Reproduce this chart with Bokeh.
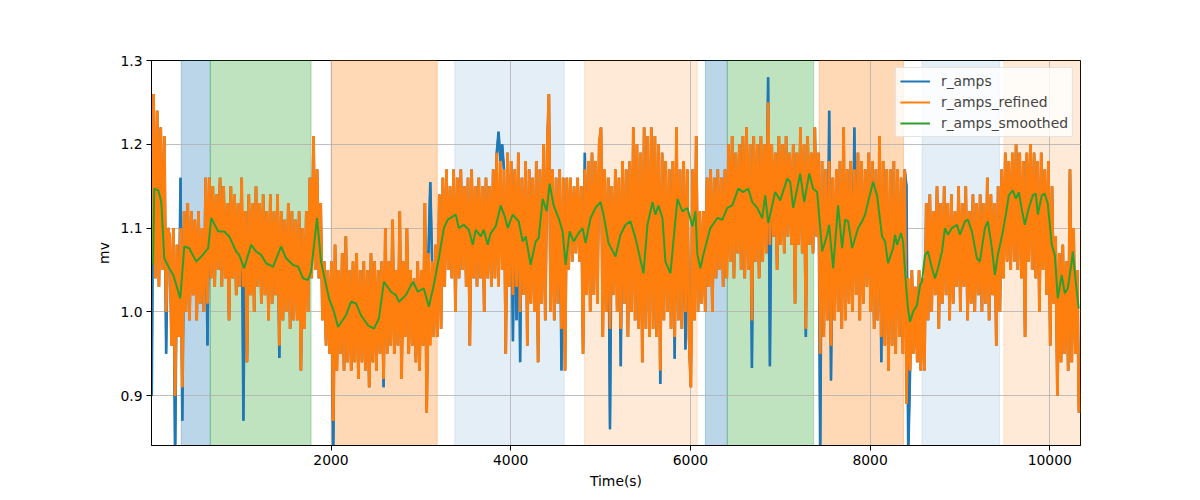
import numpy as np
from bokeh.plotting import figure
from bokeh.models import BoxAnnotation, FixedTicker, Range1d, PrintfTickFormatter
from bokeh.embed import file_html
from bokeh.resources import INLINE

# ---------------- data ----------------
T0 = 5          # time of first sample (s)
DT = 20         # spacing of the samples below (s)

r_amps_refined = [
    1.06, 1.26, 1.04, 1.24, 1.03, 1.22, 1.05, 1.21, 1.00, 1.10,
    1.09, 0.96, 1.10, 0.90, 1.08, 0.97, 1.10, 0.91, 1.12, 1.00,
    1.13, 0.99, 1.12, 1.02, 1.11, 0.99, 1.12, 1.01, 1.10, 1.00,
    1.16, 1.01, 1.16, 1.04, 1.15, 1.03, 1.14, 1.05, 1.16, 1.03,
    1.15, 1.04, 1.13, 0.99, 1.15, 1.04, 1.14, 1.02, 1.13, 1.03,
    1.16, 1.03, 1.12, 0.94, 1.14, 1.02, 1.13, 1.00, 1.15, 1.03,
    1.13, 1.01, 1.14, 1.02, 1.12, 0.99, 1.14, 1.01, 1.12, 1.02,
    1.14, 0.96, 1.12, 0.99, 1.11, 1.00, 1.13, 0.98, 1.12, 0.99,
    1.11, 0.99, 1.12, 0.93, 1.10, 0.98, 1.12, 1.00, 1.16, 1.04,
    1.21, 1.05, 1.17, 1.04, 1.13, 0.99, 1.06, 0.96, 1.05, 0.95,
    1.06, 0.87, 1.08, 0.93, 1.05, 0.95, 1.07, 0.93, 1.09, 0.94,
    1.05, 0.93, 1.06, 0.94, 1.07, 0.92, 1.05, 0.94, 1.06, 0.93,
    1.05, 0.91, 1.07, 0.94, 1.06, 0.93, 1.05, 0.95, 1.06, 0.92,
    1.10, 0.95, 1.06, 0.96, 1.11, 0.95, 1.05, 0.96, 1.12, 0.92,
    1.06, 0.97, 1.10, 0.95, 1.05, 0.96, 1.04, 0.94, 1.06, 0.93,
    1.05, 0.96, 1.13, 0.88, 1.07, 0.96, 1.06, 0.97, 1.08, 0.97,
    1.14, 0.98, 1.16, 1.03, 1.17, 1.05, 1.15, 1.04, 1.17, 1.00,
    1.16, 1.04, 1.17, 1.05, 1.15, 1.03, 1.16, 0.96, 1.17, 1.04,
    1.15, 1.03, 1.16, 1.04, 1.15, 1.00, 1.16, 1.04, 1.15, 1.03,
    1.17, 1.04, 1.19, 1.03, 1.18, 1.05, 1.17, 0.95, 1.19, 1.03,
    1.18, 1.02, 1.17, 1.03, 1.19, 1.00, 1.16, 1.02, 1.18, 0.96,
    1.17, 1.01, 1.16, 1.00, 1.18, 0.94, 1.17, 1.01, 1.20, 0.99,
    1.19, 1.26, 1.00, 1.17, 0.99, 1.16, 1.01, 1.17, 0.98, 1.16,
    0.93, 1.16, 1.05, 1.16, 1.06, 1.15, 1.07, 1.16, 1.06, 1.15,
    0.95, 1.17, 1.02, 1.18, 1.00, 1.19, 1.02, 1.18, 1.01, 1.20,
    1.22, 0.97, 1.17, 1.00, 1.16, 0.98, 1.15, 1.02, 1.17, 1.00,
    1.16, 0.98, 1.18, 1.01, 1.17, 0.97, 1.18, 1.00, 1.22, 0.99,
    1.20, 0.98, 1.19, 0.94, 1.22, 0.98, 1.21, 0.97, 1.22, 0.98,
    1.21, 0.97, 1.20, 0.93, 1.19, 0.99, 1.18, 1.00, 1.17, 0.98,
    1.18, 0.97, 1.22, 0.99, 1.17, 0.98, 1.18, 1.00, 1.17, 0.97,
    0.91, 1.17, 0.99, 1.21, 1.00, 1.12, 1.01, 1.12, 1.00, 1.16,
    1.03, 1.17, 1.00, 1.16, 1.04, 1.17, 1.05, 1.16, 1.03, 1.17,
    1.04, 1.20, 1.06, 1.21, 1.04, 1.19, 1.07, 1.20, 1.05, 1.21,
    1.04, 1.22, 1.05, 1.20, 0.99, 1.21, 1.06, 1.20, 1.04, 1.21,
    1.06, 1.20, 1.07, 1.25, 1.08, 1.20, 1.09, 1.19, 1.05, 1.21,
    1.08, 1.20, 1.07, 1.21, 1.09, 1.19, 1.08, 1.20, 1.01, 1.19,
    1.08, 1.22, 1.07, 1.20, 0.98, 1.21, 1.08, 1.19, 1.07, 1.22,
    1.09, 1.19, 0.95, 1.18, 0.97, 1.17, 0.99, 1.18, 0.96, 1.16,
    0.99, 1.17, 1.00, 1.18, 0.98, 1.22, 0.99, 1.17, 1.01, 1.18,
    1.00, 1.17, 1.02, 1.19, 0.99, 1.18, 1.01, 1.17, 1.03, 1.19,
    1.00, 1.18, 0.98, 1.17, 0.99, 1.21, 0.97, 1.18, 0.96, 1.17,
    0.93, 1.17, 0.96, 1.18, 0.95, 1.17, 0.97, 1.16, 0.95, 1.17,
    0.89, 1.04, 0.93, 1.05, 0.95, 1.03, 0.94, 1.05, 0.93, 1.04,
    0.93, 1.13, 0.99, 1.14, 1.00, 1.12, 1.02, 1.15, 0.98, 1.13,
    1.01, 1.15, 1.02, 1.13, 0.99, 1.14, 1.01, 1.12, 1.03, 1.15,
    1.00, 1.13, 1.03, 1.15, 0.99, 1.12, 1.01, 1.14, 1.00, 1.13,
    1.02, 1.14, 1.00, 1.13, 1.01, 1.16, 0.99, 1.14, 1.02, 1.13,
    0.96, 1.15, 1.00, 1.17, 1.04, 1.19, 1.06, 1.18, 1.05, 1.19,
    1.06, 1.20, 1.05, 1.19, 1.04, 1.18, 0.97, 1.19, 1.06, 1.20,
    1.05, 1.19, 1.04, 1.18, 1.00, 1.19, 1.05, 1.17, 1.02, 1.18,
    0.96, 1.15, 1.01, 1.09, 0.90, 1.07, 0.94, 1.08, 0.95, 1.06,
    0.93, 1.17, 0.94, 1.10, 0.95, 1.05, 0.88,
]

# samples where the raw r_amps differ from the refined values (outliers)
r_amps_outlier_times = [
    5, 165, 265, 325, 345, 625, 1025, 1425, 2025, 2585, 3105, 3865, 3905,
    4025, 4065, 4105, 4565, 4825, 5105, 5225, 5665, 5825, 5945, 6685, 6865,
    6885, 7285, 7445, 7545, 7565, 7825, 8125, 8405, 8425,
]
r_amps_outlier_values = [
    0.90, 0.95, 0.82, 1.16, 0.87, 0.96, 0.87, 0.945, 0.83, 0.91, 1.155, 1.215, 1.20,
    0.965, 0.99, 0.94, 0.93, 1.19, 0.86, 0.935, 0.914, 0.944, 0.955, 0.933, 1.28,
    0.935, 0.97, 0.83, 1.24, 0.918, 1.22, 0.94, 1.15, 0.83,
]

smooth_times = [
    19, 33, 78, 111, 144, 200, 244, 278, 322, 367, 422, 500, 556, 633, 667, 744, 811,
    867, 944, 978, 1033, 1111, 1167, 1222, 1278, 1356, 1444, 1500, 1578, 1633, 1689,
    1744, 1778, 1844, 1889, 1978, 2033, 2078, 2167, 2222, 2278, 2333, 2411, 2478,
    2533, 2589, 2667, 2722, 2756, 2833, 2911, 2967, 3033, 3089, 3144, 3200, 3256,
    3300, 3389, 3422, 3478, 3533, 3578, 3611, 3667, 3700, 3744, 3778, 3833, 3889,
    3933, 3967, 4022, 4089, 4133, 4167, 4222, 4278, 4311, 4356, 4400, 4433, 4478,
    4533, 4578, 4611, 4656, 4700, 4756, 4800, 4833, 4889, 4944, 5000, 5033, 5089,
    5167, 5222, 5278, 5333, 5389, 5478, 5522, 5578, 5611, 5644, 5689, 5722, 5778,
    5811, 5856, 5911, 5967, 6022, 6056, 6078, 6111, 6144, 6222, 6300, 6356, 6411,
    6467, 6533, 6589, 6644, 6689, 6744, 6800, 6833, 6867, 6944, 7000, 7078, 7111,
    7144, 7189, 7222, 7267, 7322, 7367, 7411, 7467, 7522, 7544, 7589, 7644, 7689,
    7722, 7756, 7800, 7867, 7911, 7944, 7978, 8033, 8078, 8133, 8167, 8200, 8256,
    8278, 8300, 8344, 8367, 8400, 8422, 8444, 8478, 8522, 8556, 8578, 8611, 8644,
    8689, 8722, 8756, 8800, 8833, 8867, 8911, 8967, 9000, 9056, 9089, 9133, 9189,
    9222, 9278, 9311, 9356, 9389, 9422, 9478, 9511, 9544, 9589, 9622, 9656, 9689,
    9722, 9767, 9811, 9844, 9867, 9911, 9944, 9978, 10022, 10056, 10089, 10133,
    10167, 10200, 10244, 10256, 10289, 10322,
]
smooth_values = [
    1.056, 1.147, 1.145, 1.131, 1.064, 1.052, 1.044, 1.032, 1.016, 1.078, 1.076, 1.060, 1.066, 1.076, 1.112, 1.096, 1.096,
    1.090, 1.072, 1.068, 1.052, 1.080, 1.072, 1.068, 1.058, 1.054, 1.078, 1.064, 1.056, 1.054, 1.040,
    1.038, 1.048, 1.112, 1.060, 1.016, 1.000, 0.982, 0.996, 1.012, 1.010, 0.996, 0.984, 0.980,
    0.992, 1.036, 1.024, 1.020, 1.012, 1.020, 1.036, 1.024, 1.028, 1.006, 1.032, 1.064, 1.100,
    1.110, 1.116, 1.100, 1.104, 1.098, 1.080, 1.098, 1.090, 1.098, 1.080, 1.094, 1.102, 1.127,
    1.114, 1.100, 1.116, 1.108, 1.084, 1.090, 1.056, 1.084, 1.088, 1.135, 1.120, 1.153, 1.127,
    1.112, 1.096, 1.056, 1.096, 1.084, 1.094, 1.100, 1.082, 1.112, 1.124, 1.131, 1.116, 1.082,
    1.066, 1.092, 1.104, 1.108, 1.088, 1.046, 1.104, 1.131, 1.116, 1.127, 1.112, 1.060, 1.046,
    1.084, 1.135, 1.120, 1.124, 1.102, 1.120, 1.068, 1.052, 1.068, 1.100, 1.112, 1.110, 1.124,
    1.127, 1.147, 1.143, 1.147, 1.131, 1.124, 1.112, 1.139, 1.106, 1.143, 1.133, 1.159, 1.155,
    1.124, 1.147, 1.165, 1.131, 1.165, 1.147, 1.143, 1.072, 1.092, 1.104, 1.052, 1.127, 1.076,
    1.110, 1.108, 1.076, 1.100, 1.108, 1.116, 1.131, 1.155, 1.139, 1.090, 1.084, 1.058, 1.076,
    1.092, 1.080, 1.094, 1.084, 1.032, 1.004, 0.988, 1.000, 1.008, 1.032, 1.036, 1.068, 1.072,
    1.052, 1.040, 1.052, 1.072, 1.100, 1.092, 1.100, 1.104, 1.092, 1.108, 1.110, 1.096, 1.064,
    1.060, 1.100, 1.108, 1.076, 1.044, 1.068, 1.096, 1.116, 1.139, 1.145, 1.135, 1.143, 1.122,
    1.104, 1.124, 1.139, 1.141, 1.116, 1.139, 1.141, 1.129, 1.080, 1.068, 1.016, 1.044,
    1.022, 1.028, 1.060, 1.072, 1.036, 1.004,
]

# shaded segments (start, end in seconds) and their kind
span_starts = [333, 656, 2000, 3378, 4822, 6167, 6411, 7433, 8578, 9489]
span_ends = [656, 1778, 3182, 4595, 6076, 6411, 7372, 8372, 9440, 10342]
span_kinds = ["blue", "green", "orange", "pale_blue", "pale_orange",
              "blue", "green", "orange", "pale_blue", "pale_orange"]

x_ticks = [2000, 4000, 6000, 8000, 10000]
y_ticks = [0.9, 1.0, 1.1, 1.2, 1.3]

# ---------------- build series ----------------
time = T0 + DT * np.arange(len(r_amps_refined))
r_amps = np.array(r_amps_refined, dtype=float)
out_idx = np.round((np.array(r_amps_outlier_times) - T0) / DT).astype(int)
r_amps[out_idx] = r_amps_outlier_values

# ---------------- styles ----------------
C_BLUE, C_ORANGE, C_GREEN = "#1f77b4", "#ff7f0e", "#2ca02c"
span_style = {
    "blue": (C_BLUE, 0.3),
    "green": (C_GREEN, 0.3),
    "orange": (C_ORANGE, 0.3),
    "pale_blue": (C_BLUE, 0.12),
    "pale_orange": (C_ORANGE, 0.16),
}
FONT = "DejaVu Sans"
FS = "13.9px"

p = figure(width=1200, height=500, output_backend="svg", toolbar_location=None,
           x_range=Range1d(2, 10342), y_range=Range1d(0.8405, 1.30),
           min_border_left=151, min_border_right=120,
           min_border_top=60, min_border_bottom=55)

for s, e, k in zip(span_starts, span_ends, span_kinds):
    col, a = span_style[k]
    p.add_layout(BoxAnnotation(left=s, right=e, fill_color=col, fill_alpha=a,
                               line_color=col, line_alpha=a, line_width=1,
                               level="image"))

# thin lines carry the legend entries; the dense beat series are then
# drawn a bit thicker on top (many overlapping beats in the original)
p.line(time, r_amps, line_color=C_BLUE, line_width=2, legend_label="r_amps")
p.line(time, r_amps, line_color=C_BLUE, line_width=2.6)
p.line(time, r_amps_refined, line_color=C_ORANGE, line_width=2, legend_label="r_amps_refined")
p.line(time, r_amps_refined, line_color=C_ORANGE, line_width=2.8)
p.line(smooth_times, smooth_values, line_color=C_GREEN, line_width=2, legend_label="r_amps_smoothed")

# axes
p.xaxis.ticker = FixedTicker(ticks=x_ticks)
p.yaxis.ticker = FixedTicker(ticks=y_ticks)
p.xaxis.formatter = PrintfTickFormatter(format="%d")
p.yaxis.formatter = PrintfTickFormatter(format="%.1f")
p.xaxis.axis_label = "Time(s)"
p.yaxis.axis_label = "mv"
for ax in (p.xaxis, p.yaxis):
    ax.axis_label_text_font = FONT
    ax.axis_label_text_font_size = FS
    ax.axis_label_text_font_style = "normal"
    ax.axis_label_text_color = "black"
    ax.major_label_text_font = FONT
    ax.major_label_text_font_size = FS
    ax.major_label_text_color = "black"
    ax.axis_line_color = "black"
    ax.major_tick_line_color = "black"
    ax.major_tick_in = 0
    ax.major_tick_out = 5
    ax.minor_tick_line_color = None
    ax.major_label_standoff = 4
    ax.axis_label_standoff = 5

p.xgrid.ticker = FixedTicker(ticks=x_ticks)
p.ygrid.ticker = FixedTicker(ticks=y_ticks)
p.grid.grid_line_color = "#b0b0b0"
p.grid.grid_line_width = 0.8

p.outline_line_color = "black"
p.outline_line_width = 1
p.outline_line_alpha = 1
p.background_fill_color = "white"
p.border_fill_color = "white"

lg = p.legend[0]
lg.location = "top_right"
lg.margin = 7
lg.padding = 4
lg.spacing = 3
lg.glyph_height = 18
lg.glyph_width = 30
lg.label_height = 18
lg.label_standoff = 11
lg.label_text_font = FONT
lg.label_text_font_size = FS
lg.border_line_color = "#cccccc"
lg.border_line_width = 1
lg.background_fill_color = "white"
lg.background_fill_alpha = 0.8

open("out.html", "w").write(file_html(p, INLINE))
